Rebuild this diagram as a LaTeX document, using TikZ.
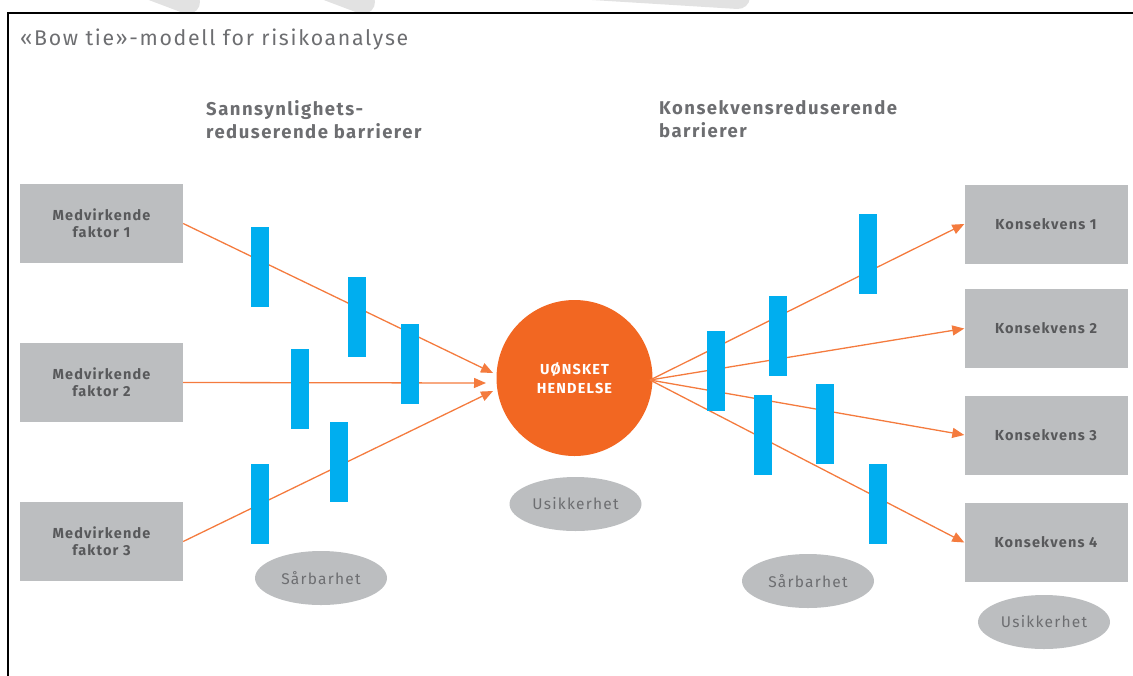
\documentclass[tikz,border=0pt]{standalone}
\usepackage{fontspec}
\setmainfont{Fira Sans}[LetterSpace=8]
\usetikzlibrary{arrows.meta,shapes.geometric}
\definecolor{boxgray}{HTML}{BCBEC0}
\definecolor{txtgray}{HTML}{6D6E71}
\definecolor{dkgray}{HTML}{58595B}
\definecolor{orng}{HTML}{F26722}
\definecolor{lineorng}{HTML}{F47B3E}
\definecolor{barblue}{HTML}{00AEEF}
\definecolor{wmgray}{HTML}{E2E2E2}
\begin{document}
\begin{tikzpicture}[x=1pt,y=-1pt,
 box/.style={fill=boxgray, minimum width=163pt, minimum height=79pt, inner sep=0pt, align=center, font=\fontsize{14.5}{17}\selectfont\bfseries, text=dkgray},
 event/.style={circle, fill=orng, minimum size=156pt, inner sep=0pt, align=center, text=white, font=\fontsize{14.5}{19}\selectfont\bfseries},
 blob/.style={ellipse, fill=boxgray, minimum width=132pt, minimum height=54pt, inner sep=0pt, text=txtgray, font=\fontsize{15.5}{18}\selectfont},
 bar/.style={fill=barblue, minimum width=18pt, minimum height=80pt, inner sep=0pt},
 link/.style={draw=lineorng, line width=1.3pt},
 arr/.style={link, -{Triangle[length=12pt,width=10pt]}},
 head/.style={anchor=north west, inner sep=0pt, align=left, text=txtgray, font=\fontsize{18.5}{23}\selectfont\bfseries},
 wm/.style={draw=wmgray, line width=24pt, line cap=round}
]
\useasboundingbox (0,0) rectangle (1133,675);
% watermark fragments
\begin{scope}
\clip (0,0) rectangle (1133,12);
\draw[wm] (135,-18) -- (188,2);
\draw[wm] (310,-18) -- (363,2);
\draw[wm] (560,-14) -- (738,-3);
\end{scope}
% frame
\draw[line width=2pt] (8,676) -- (8,13) -- (1133,13);
% title and headings
\node[anchor=base west, inner sep=0pt, text=txtgray, font=\fontsize{21.3}{25}\selectfont] (title) at (20,45) {«Bow tie»-modell for risikoanalyse};
\node[head] (hl) at (206,100) {Sannsynlighets-\\reduserende barrierer};
\node[head] (hr) at (659,100) {Konsekvensreduserende\\barrierer};
% left boxes
\node[box] (f1) at (101.5,223.5) {Medvirkende\\faktor 1};
\node[box] (f2) at (101.5,382.5) {Medvirkende\\faktor 2};
\node[box] (f3) at (101.5,541.5) {Medvirkende\\faktor 3};
% right boxes
\node[box] (c1) at (1046,224) {Konsekvens 1};
\node[box] (c2) at (1046,328.5) {Konsekvens 2};
\node[box] (c3) at (1046,435) {Konsekvens 3};
\node[box] (c4) at (1046,542.5) {Konsekvens 4};
% event
\node[event] (ev) at (574.5,378) {UØNSKET\\HENDELSE};
% ellipses
\node[blob] (u1) at (575.5,504) {Usikkerhet};
\node[blob] (s1) at (321,578) {Sårbarhet};
\node[blob] (s2) at (808,581) {Sårbarhet};
\node[blob] (u2) at (1044,622) {Usikkerhet};
% arrow tips near event
\coordinate (t1) at (493,373);
\coordinate (t2) at (486,383);
\coordinate (t3) at (493,391);
\coordinate (o) at (650,380);
% connectors
\draw[arr] (f1.east) -- (t1);
\draw[arr] (f2.east) -- (t2);
\draw[arr] (f3.east) -- (t3);
\draw[arr] (o) -- (c1.west);
\draw[arr] (o) -- (c2.west);
\draw[arr] (o) -- (c3.west);
\draw[arr] (o) -- (c4.west);
% barriers
\node[bar] (b1) at (260,267) {};
\node[bar] (b2) at (356.5,316.5) {};
\node[bar] (b3) at (409.5,364) {};
\node[bar] (b4) at (300,389) {};
\node[bar] (b5) at (339,462) {};
\node[bar] (b6) at (260,504) {};
\node[bar] (b7) at (716,370.5) {};
\node[bar] (b8) at (778,336) {};
\node[bar] (b9) at (868,254) {};
\node[bar] (b10) at (763,435) {};
\node[bar] (b11) at (825,424) {};
\node[bar] (b12) at (877.5,504) {};
\end{tikzpicture}
\end{document}
